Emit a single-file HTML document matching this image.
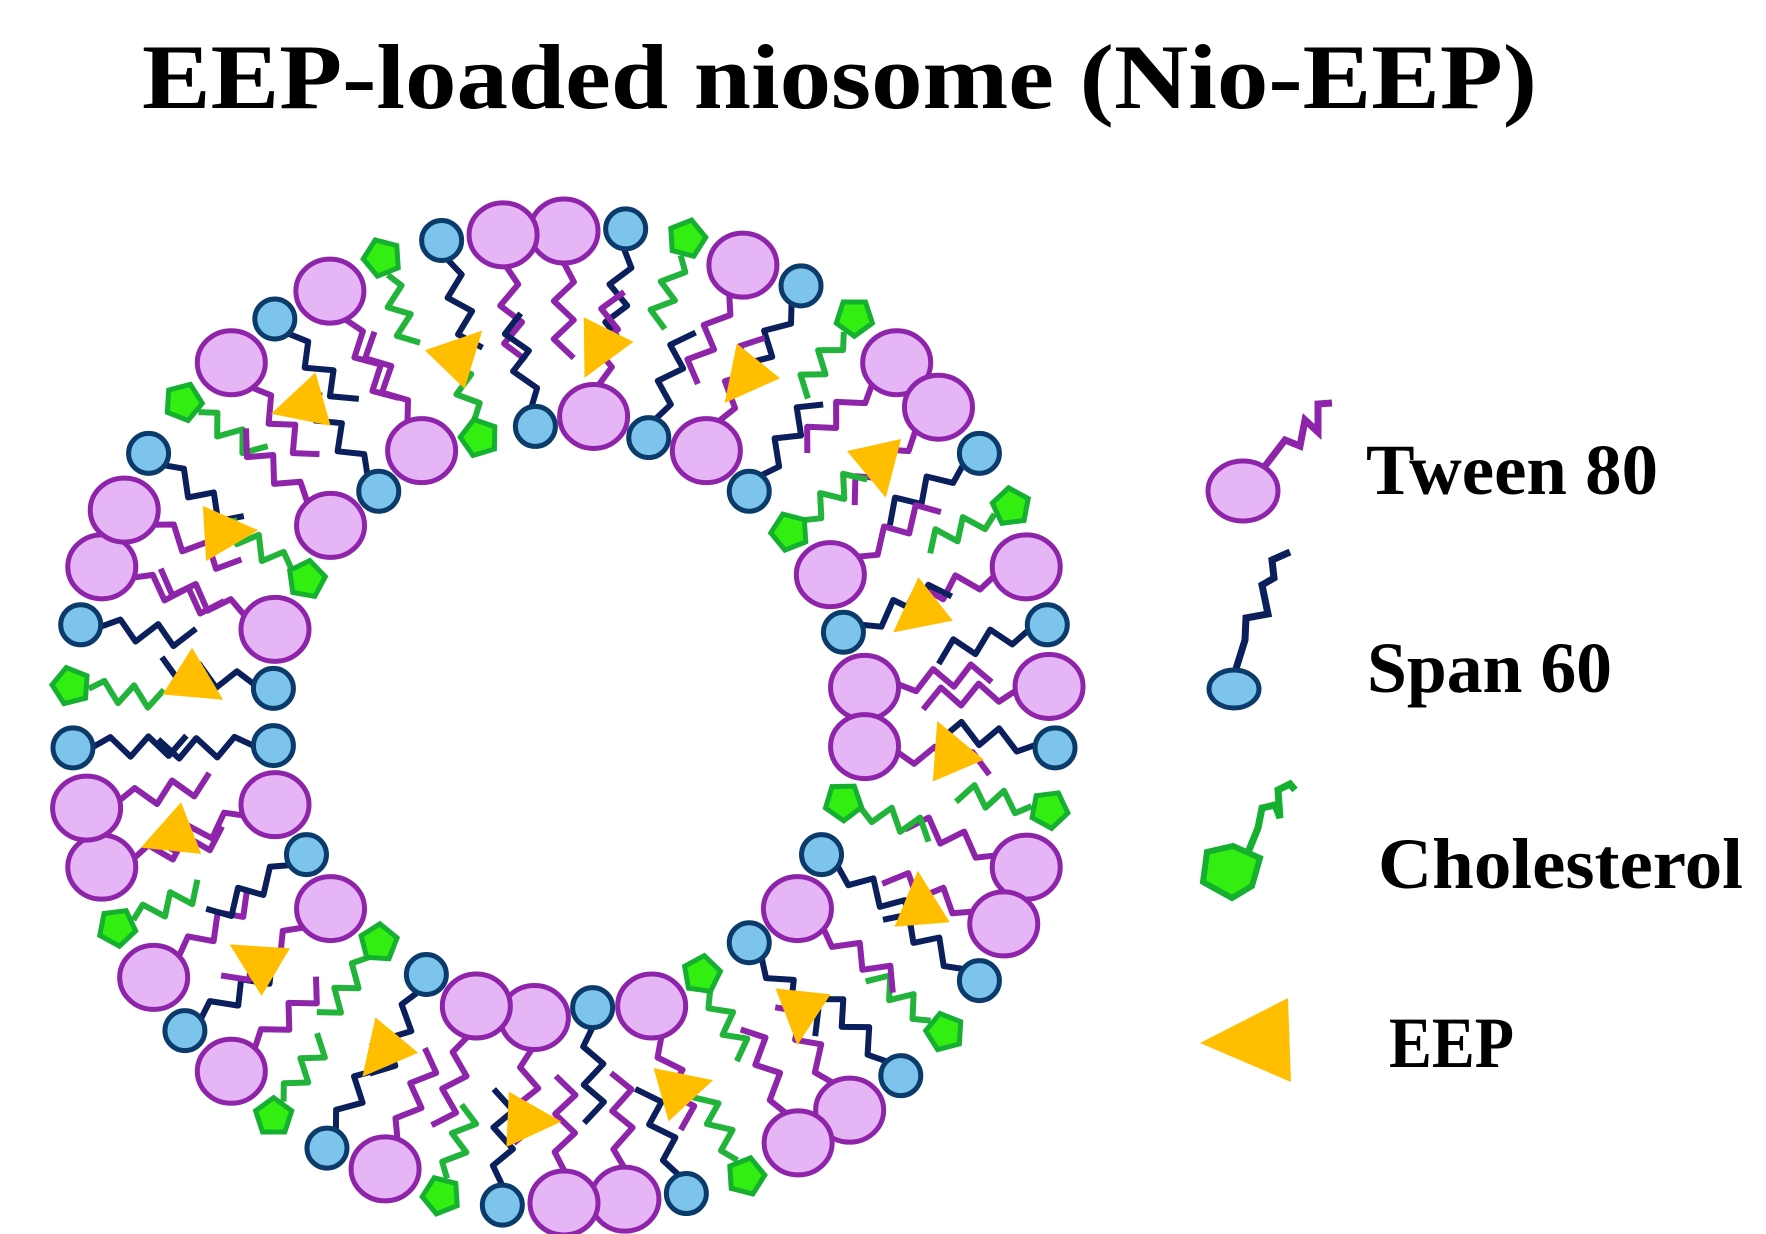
<!DOCTYPE html>
<html><head><meta charset="utf-8"><style>
html,body{margin:0;padding:0;background:#fff;}
svg{display:block;}
</style></head><body>
<svg id="s" width="1766" height="1234" viewBox="0 0 1766 1234" xmlns="http://www.w3.org/2000/svg">
<rect width="1766" height="1234" fill="#fff"/>
<text x="142" y="108" font-family="Liberation Serif, serif" font-weight="bold" font-size="92" textLength="1395" lengthAdjust="spacingAndGlyphs">EEP-loaded niosome (Nio-EEP)</text>
<g id="ves"></g>
<polyline points="1262,470 1285,440 1300,446 1305,420 1318,432 1318,404 1332,403" fill="none" stroke="#8E24AA" stroke-width="7"/>
<ellipse cx="1243" cy="491" rx="35" ry="30" fill="#E6B5F5" stroke="#8E24AA" stroke-width="5"/>
<polyline points="1235,672 1245,640 1246,618 1268,614 1262,585 1274,578 1272,560 1290,552" fill="none" stroke="#0A1F5C" stroke-width="7"/>
<ellipse cx="1234" cy="689" rx="25" ry="19" fill="#7DC4EC" stroke="#0B3B6B" stroke-width="5"/>
<polyline points="1245,860 1258,828 1262,808 1275,805 1280,818 1278,790 1290,784 1295,790" fill="none" stroke="#16B030" stroke-width="7"/>
<polygon points="1233,846 1260,858 1252,886 1232,898 1203,882 1207,852" fill="#33EE11" stroke="#16B030" stroke-width="6"/>
<polygon points="1200,1043 1288,998 1291,1082" fill="#FFBF00"/>
<g font-family="Liberation Serif, serif" font-weight="bold" font-size="72" fill="#000">
<text x="1366" y="494" textLength="292" lengthAdjust="spacingAndGlyphs">Tween 80</text>
<text x="1367" y="692" textLength="245" lengthAdjust="spacingAndGlyphs">Span 60</text>
<text x="1378" y="888" textLength="365" lengthAdjust="spacingAndGlyphs">Cholesterol</text>
<text x="1389" y="1067" textLength="125" lengthAdjust="spacingAndGlyphs">EEP</text>
</g>
</svg>
<script>
(function(){
var g=document.getElementById('ves'),NS='http://www.w3.org/2000/svg';
var cx=564,cy=717;
var seed=7;function rnd(){seed=(seed*9301+49297)%233280;return seed/233280;}
var tails=[],heads=[];
function mk(t,a){var e=document.createElementNS(NS,t);for(var k in a)e.setAttribute(k,a[k]);return e;}
var col={t:'#8E24AA',s:'#0A1F5C',c:'#22B33A'};
function mol(type,ang,r,dir){
 var ux=Math.cos(ang),uy=Math.sin(ang),px=-uy,py=ux;
 var hx=cx+ux*r,hy=cy+uy*r;
 var len=type=='c'?75:95, hr=type=='t'?32:(type=='s'?19:18);
 var pts=[],n=5,off=(rnd()-0.5)*0.5;
 for(var i=0;i<=n;i++){var d=hr+len*i/n;var w=(i==0?0:(i%2?10:-10))+off*d*0.5;
  var rr=r+dir*d;pts.push((cx+ux*rr+px*w).toFixed(1)+','+(cy+uy*rr+py*w).toFixed(1));}
 tails.push(mk('polyline',{points:pts.join(' '),fill:'none',stroke:col[type],'stroke-width':6,'stroke-linejoin':'round'}));
 if(type=='t')heads.push(mk('ellipse',{cx:hx,cy:hy,rx:34,ry:32,fill:'#E6B5F5',stroke:'#8E24AA','stroke-width':5}));
 else if(type=='s')heads.push(mk('circle',{cx:hx,cy:hy,r:20,fill:'#7DC4EC',stroke:'#0B3B6B','stroke-width':5}));
 else{var p=[];for(var k=0;k<5;k++){var a=ang+k*2*Math.PI/5;p.push((hx+Math.cos(a)*19).toFixed(1)+','+(hy+Math.sin(a)*19).toFixed(1));}
  heads.push(mk('polygon',{points:p.join(' '),fill:'#33EE11',stroke:'#16B030','stroke-width':5}));}
}
var outer='tsctscttsctstscttscsttcsttsctsctstcttscsttsctstcst';
var N=outer.length;
for(var i=0;i<N;i++){var a=i/N*2*Math.PI-Math.PI/2;var ty=outer[i];mol(ty,a,ty=='t'?486:(ty=='s'?492:494),-1);}
var inner='tstsctsttcstsctsttsctstsstctstcs';
var M=inner.length;
for(var i=0;i<M;i++){var a=(i+0.5)/M*2*Math.PI-Math.PI/2;var ty=inner[i];mol(ty,a,ty=='t'?302:292,1);}
tails.forEach(function(e){g.appendChild(e);});
for(var i=0;i<16;i++){var a=i/16*2*Math.PI-Math.PI/2+0.1;var r=390+((i%3)-1)*15;
 var x=cx+Math.cos(a)*r,y=cy+Math.sin(a)*r,rot=rnd()*360;var p=[];
 for(var k=0;k<3;k++){var b=rot*Math.PI/180+k*2*Math.PI/3;var s=k==0?38:32;p.push((x+Math.cos(b)*s).toFixed(1)+','+(y+Math.sin(b)*s).toFixed(1));}
 g.appendChild(mk('polygon',{points:p.join(' '),fill:'#FFBF00'}));}
heads.forEach(function(e){g.appendChild(e);});
})();
</script>
</body></html>
